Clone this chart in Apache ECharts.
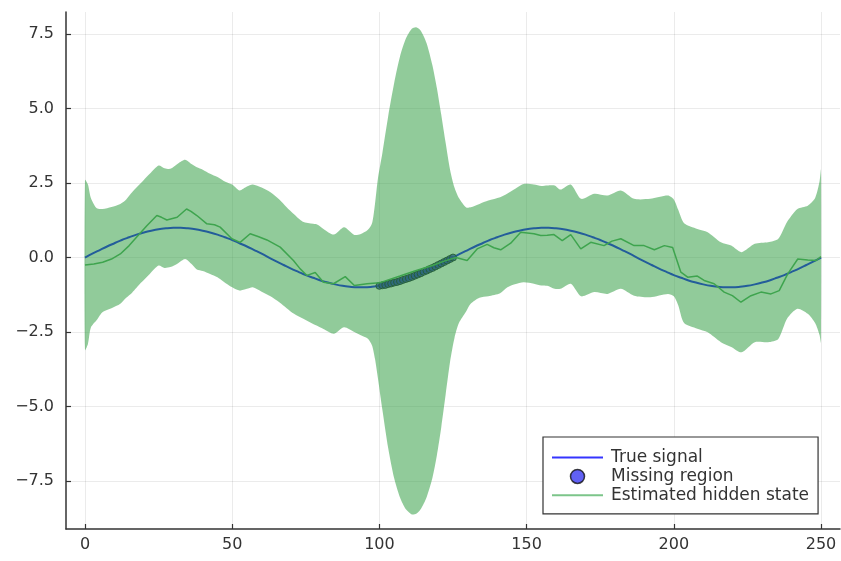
<!DOCTYPE html>
<html>
<head>
<meta charset="utf-8">
<script src="https://cdn.jsdelivr.net/npm/echarts@6/dist/echarts.min.js"></script>
<style>
html,body{margin:0;padding:0;background:#fff;}
#chart{width:841px;height:561px;}
</style>
</head>
<body>
<div id="chart"></div>
<script>
// True signal sampled every 2.5 units (x = 0 .. 250)
const trueX = [];
const trueY = [
  0.00, 0.13, 0.25, 0.37, 0.48, 0.59, 0.68, 0.77, 0.84, 0.90, 0.95, 0.98, 1.00,
  1.00, 0.98, 0.95, 0.90, 0.84, 0.77, 0.68, 0.59, 0.48, 0.37, 0.25, 0.13,
  0.00, -0.13, -0.25, -0.37, -0.48, -0.59, -0.68, -0.77, -0.84, -0.90, -0.95, -0.98, -1.00,
  -1.00, -0.98, -0.95, -0.90, -0.84, -0.77, -0.68, -0.59, -0.48, -0.37, -0.25, -0.13,
  0.00, 0.13, 0.25, 0.37, 0.48, 0.59, 0.68, 0.77, 0.84, 0.90, 0.95, 0.98, 1.00,
  1.00, 0.98, 0.95, 0.90, 0.84, 0.77, 0.68, 0.59, 0.48, 0.37, 0.25, 0.13,
  0.00, -0.13, -0.25, -0.37, -0.48, -0.59, -0.68, -0.77, -0.84, -0.90, -0.95, -0.98, -1.00,
  -1.00, -0.98, -0.95, -0.90, -0.84, -0.77, -0.68, -0.59, -0.48, -0.37, -0.25, -0.13, 0.00
];
for (let i = 0; i < trueY.length; i++) trueX.push(i * 2.5);

// Missing region observations (x = 100 .. 125)
const missingX = [100,101,102,103,104,105,106,107,108,109,110,111,112,113,114,115,116,117,118,119,120,121,122,123,124,125];
const missingY = [-0.95,-0.93,-0.92,-0.89,-0.87,-0.84,-0.82,-0.79,-0.75,-0.72,-0.69,-0.65,-0.61,-0.57,-0.53,-0.48,-0.44,-0.39,-0.35,-0.30,-0.25,-0.20,-0.15,-0.10,-0.05,0.00];

// Estimated hidden state
const estX = [0,3,6,9,12,15,17.5,21,24.4,26,27.8,31.3,34.5,36,38,41.4,44,45.9,49.9,52.7,56.1,59,61.8,66.3,70.8,73.1,75.4,78.2,81,84.4,88.4,91.5,95.8,100,107,112,118.5,122,126,129.8,133.2,136.6,138.9,141.2,144.6,148,152.5,154.8,157,159.3,162.1,165,168.4,171.8,176.3,179,182,186.5,189.9,193.4,196.8,199.6,202.4,204.7,208,210.3,213.7,217.1,219.9,222.8,226.2,229.6,233,235.8,238.7,242.1,245.5,248.3,250];
const estY = [-0.25,-0.22,-0.16,-0.05,0.12,0.40,0.68,1.07,1.41,1.35,1.26,1.35,1.63,1.55,1.41,1.13,1.10,1.02,0.63,0.51,0.80,0.70,0.59,0.35,-0.10,-0.38,-0.60,-0.50,-0.83,-0.88,-0.64,-0.94,-0.88,-0.85,-0.62,-0.45,-0.25,-0.12,0.00,-0.10,0.29,0.44,0.33,0.26,0.48,0.85,0.80,0.74,0.75,0.77,0.57,0.77,0.29,0.51,0.40,0.55,0.63,0.40,0.40,0.26,0.40,0.34,-0.49,-0.66,-0.62,-0.77,-0.88,-1.16,-1.28,-1.50,-1.28,-1.16,-1.22,-1.11,-0.55,-0.05,-0.08,-0.10,0.03];

// Uncertainty band
const bandX = [0,1,2,4,6,9,12,14,16,19,22,25,27,29,31.5,34,36,38,40,42.5,45,47,50,52.5,55,57,60,63,66,68.5,71,74,77.5,79,81,84.5,88,91.5,93.5,96,97.5,98.5,99.5,101,103,105,107,109,111,112.5,114,116,118,119.5,121,122.5,124,125.5,127,129.5,131,134,137,141,143.5,146,149,152.5,155,157,159.5,161.5,165,168.5,173,177.5,182,186.5,192,198,200,201.5,203.5,208,211.5,216,219.5,223,227.5,232,235.5,238.5,242,245.5,248,249.5,250];
const bandUpper = [2.60,2.45,2.00,1.65,1.63,1.70,1.80,1.95,2.19,2.50,2.81,3.09,3.00,2.98,3.15,3.28,3.15,3.03,2.95,2.81,2.70,2.58,2.45,2.25,2.38,2.45,2.35,2.19,1.95,1.69,1.45,1.20,1.13,1.10,0.96,0.77,1.02,0.76,0.78,0.92,1.15,1.80,2.65,3.50,4.75,5.85,6.75,7.35,7.68,7.73,7.62,7.20,6.45,5.70,4.80,3.85,2.95,2.35,2.00,1.68,1.69,1.80,1.91,2.02,2.15,2.30,2.47,2.45,2.40,2.42,2.42,2.28,2.45,1.97,2.14,2.08,2.25,1.97,1.97,2.08,1.95,1.60,1.15,0.96,0.85,0.51,0.40,0.18,0.46,0.51,0.63,1.20,1.63,1.74,2.00,2.55,2.95];
const bandLower = [-3.10,-2.90,-2.35,-2.10,-1.83,-1.70,-1.55,-1.35,-1.18,-0.85,-0.55,-0.27,-0.35,-0.32,-0.20,-0.05,-0.20,-0.40,-0.45,-0.55,-0.66,-0.80,-1.00,-1.11,-1.05,-1.00,-1.15,-1.30,-1.50,-1.70,-1.89,-2.05,-2.23,-2.30,-2.40,-2.56,-2.34,-2.50,-2.60,-2.72,-2.95,-3.40,-4.05,-5.10,-6.40,-7.40,-8.05,-8.45,-8.62,-8.60,-8.45,-8.05,-7.40,-6.65,-5.70,-4.60,-3.50,-2.70,-2.20,-1.80,-1.55,-1.35,-1.30,-1.20,-1.00,-0.90,-0.83,-0.88,-0.94,-0.95,-1.05,-1.05,-0.88,-1.30,-1.16,-1.22,-1.05,-1.28,-1.33,-1.22,-1.30,-1.60,-2.20,-2.39,-2.51,-2.84,-3.00,-3.18,-2.84,-2.84,-2.73,-2.05,-1.72,-1.89,-2.20,-2.60,-2.85];

// Axis ticks
const xTicks = [0, 50, 100, 150, 200, 250];
const yTicks = [-7.5, -5.0, -2.5, 0.0, 2.5, 5.0, 7.5];

const pair = (xs, ys) => xs.map((x, i) => [x, ys[i]]);
const bandData = bandX.map((x, i) => [x, bandLower[i], bandUpper[i]]);

const font = 'DejaVu Sans';
const txt = '#333333';

function renderBand(params, api) {
  if (params.dataIndex !== 0) return null;
  const up = [], lo = [];
  for (let i = 0; i < bandX.length; i++) {
    up.push(api.coord([bandX[i], bandUpper[i]]));
    lo.push(api.coord([bandX[i], bandLower[i]]));
  }
  const style = {fill: 'rgba(62,164,78,0.57)', stroke: null};
  return {
    type: 'group',
    children: [{
      type: 'polygon',
      shape: {points: up.concat(lo.reverse()), smooth: 0.25},
      style: style
    }]
  };
}

const chart = echarts.init(document.getElementById('chart'), null, {renderer: 'canvas'});
chart.setOption({
  animation: false,
  backgroundColor: '#ffffff',
  grid: {left: 66, top: 12, right: 1, bottom: 32, containLabel: false},
  xAxis: {
    type: 'value', min: -6.45, max: 256.45,
    axisLine: {show: true, onZero: false, lineStyle: {color: '#333', width: 1.5}},
    axisTick: {show: true, inside: true, length: 5, customValues: xTicks, lineStyle: {color: '#333', width: 1.2}},
    axisLabel: {customValues: xTicks, color: txt, fontFamily: font, fontSize: 16, margin: 8,
      formatter: v => String(v)},
    splitLine: {show: true, lineStyle: {color: 'rgba(0,0,0,0.08)', width: 1}}
  },
  yAxis: {
    type: 'value', min: -9.11, max: 8.24,
    axisLine: {show: true, onZero: false, lineStyle: {color: '#333', width: 1.5}},
    axisTick: {show: true, inside: true, length: 5, customValues: yTicks, lineStyle: {color: '#333', width: 1.2}},
    axisLabel: {customValues: yTicks, color: txt, fontFamily: font, fontSize: 16, margin: 12,
      formatter: v => (v < 0 ? '\u2212' : '') + Math.abs(v).toFixed(1)},
    splitLine: {show: true, lineStyle: {color: 'rgba(0,0,0,0.08)', width: 1}}
  },
  legend: {
    orient: 'vertical', left: 543, top: 437,
    padding: [12, 9, 10, 9],
    backgroundColor: '#fff', borderColor: '#333', borderWidth: 1.2,
    itemWidth: 51, itemHeight: 14, itemGap: 1.9,
    textStyle: {fontFamily: font, fontSize: 17, color: txt, lineHeight: 17, padding: [0, 0, 0, 3]},
    data: [
      {name: 'True signal', icon: 'path://M0,0L100,0L100,4L0,4Z', itemStyle: {color: '#3535ff'}},
      {name: 'Missing region', icon: 'circle', itemStyle: {color: '#3a3af2', borderColor: '#111', borderWidth: 1.5}},
      {name: 'Estimated hidden state', icon: 'path://M0,0L100,0L100,4L0,4Z', itemStyle: {color: '#7cc58a'}}
    ]
  },
  series: [
    {
      name: 'True signal', type: 'line', data: pair(trueX, trueY),
      symbol: 'none', smooth: 0.3, lineStyle: {color: '#0000ff', width: 2}, itemStyle: {color: '#0000ff'}, z: 2
    },
    {
      name: 'Missing region', type: 'scatter', data: pair(missingX, missingY),
      symbol: 'circle', symbolSize: 7,
      itemStyle: {color: '#1a1ab8', borderColor: '#000', borderWidth: 1}, z: 3
    },
    {
      name: 'Uncertainty band', type: 'custom', data: bandData,
      encode: {x: 0, y: [1, 2]},
      renderItem: renderBand, silent: true, z: 4, clip: true
    },
    {
      name: 'Estimated hidden state', type: 'line', data: pair(estX, estY),
      symbol: 'none', lineStyle: {color: '#3ea44e', width: 1.5}, itemStyle: {color: '#3ea44e'}, z: 5
    }
  ]
});
</script>
</body>
</html>
